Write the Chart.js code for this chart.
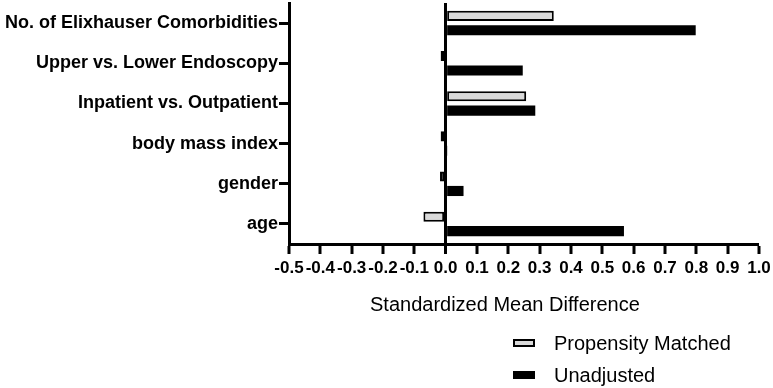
<!DOCTYPE html>
<html>
<head>
<meta charset="utf-8">
<script src="https://cdn.jsdelivr.net/npm/chart.js@4/dist/chart.umd.min.js"></script>
<style>
  body { margin: 0; background: #fff; }
  #wrap { position: relative; width: 773px; height: 388px; font-family: "Liberation Sans", Arial, sans-serif; }
  #axisTitle { position: absolute; left: 370px; top: 293px; font-size: 20px; color: #000; white-space: nowrap; }
  #legend { position: absolute; left: 513px; top: 327px; font-size: 20px; color: #000; }
  .item { height: 32px; display: flex; align-items: center; }
  .swatch { width: 22px; height: 8px; box-sizing: border-box; border: 2px solid #000; margin-right: 19px; }
</style>
</head>
<body>
<div id="wrap">
  <canvas id="smdChart" width="773" height="388"></canvas>
  <div id="axisTitle">Standardized Mean Difference</div>
  <div id="legend"></div>
</div>
<script>
// Covariates, top to bottom
const covariates = [
  'No. of Elixhauser Comorbidities',
  'Upper vs. Lower Endoscopy',
  'Inpatient vs. Outpatient',
  'body mass index',
  'gender',
  'age'
];

const seriesNames = ['Propensity Matched', 'Unadjusted'];
const propensityMatched = [0.345, -0.016, 0.257, -0.016, -0.018, -0.071];
const unadjusted = [0.798, 0.246, 0.286, 0.002, 0.057, 0.569];

// x axis ticks
const xTicks = [-0.5, -0.4, -0.3, -0.2, -0.1, 0.0, 0.1, 0.2, 0.3, 0.4, 0.5, 0.6, 0.7, 0.8, 0.9, 1.0];

const fills = ['#d9d9d9', '#000000'];

const ctx = document.getElementById('smdChart').getContext('2d');

const smdChart = new Chart(ctx, {
  type: 'bar',
  data: {
    labels: covariates,
    datasets: [
      {
        label: seriesNames[0],
        data: propensityMatched,
        backgroundColor: fills[0],
        borderColor: '#000',
        borderWidth: 2,
        borderSkipped: false
      },
      {
        label: seriesNames[1],
        data: unadjusted,
        backgroundColor: fills[1],
        borderColor: '#000',
        borderWidth: 0
      }
    ]
  },
  options: {
    indexAxis: 'y',
    responsive: false,
    animation: false,
    categoryPercentage: 0.72,
    barPercentage: 0.7,
    layout: { padding: { left: 0, right: 14, top: 3, bottom: 0 } },
    plugins: {
      legend: { display: false },
      tooltip: { enabled: false }
    },
    scales: {
      x: {
        min: xTicks[0],
        max: xTicks[xTicks.length - 1],
        afterBuildTicks: (scale) => {
          scale.ticks = xTicks.map((v) => ({ value: v }));
        },
        afterFit: (scale) => {
          scale.height = 144;
          scale.paddingLeft = 0;
          scale.paddingRight = 0;
        },
        border: { display: true, width: 3, color: '#000' },
        grid: {
          drawOnChartArea: true,
          color: (c) => (c.tick && c.tick.value === 0 ? '#000' : 'rgba(0,0,0,0)'),
          lineWidth: (c) => (c.tick && c.tick.value === 0 ? 3 : 0),
          tickColor: '#000',
          tickWidth: 3,
          tickLength: 10
        },
        ticks: {
          autoSkip: false,
          maxRotation: 0,
          padding: 4,
          color: '#000',
          font: { family: 'Liberation Sans', size: 17, weight: 'bold' },
          callback: (v) => Number(v).toFixed(1)
        }
      },
      y: {
        afterFit: (scale) => {
          scale.width = 289;
          scale.paddingTop = 0;
          scale.paddingBottom = 0;
        },
        border: { display: true, width: 3, color: '#000' },
        grid: {
          offset: false,
          drawOnChartArea: false,
          color: '#000',
          tickWidth: 3,
          tickLength: 10
        },
        ticks: {
          padding: 1,
          color: '#000',
          font: { family: 'Liberation Sans', size: 18, weight: 'bold' }
        }
      }
    }
  }
});

// Vertical legend below the axis title
const legend = document.getElementById('legend');
seriesNames.forEach((name, i) => {
  const item = document.createElement('div');
  item.className = 'item';
  const sw = document.createElement('span');
  sw.className = 'swatch';
  sw.style.background = fills[i];
  item.appendChild(sw);
  const label = document.createElement('span');
  label.innerText = name;
  item.appendChild(label);
  legend.appendChild(item);
});
</script>
</body>
</html>
